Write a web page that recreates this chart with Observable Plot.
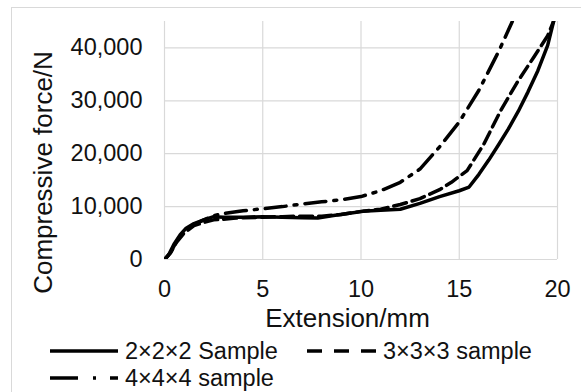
<!DOCTYPE html>
<html>
<head>
<meta charset="utf-8">
<script src="https://cdn.jsdelivr.net/npm/d3@7"></script>
<script src="https://cdn.jsdelivr.net/npm/@observablehq/plot@0.6"></script>
<style>
  html, body { margin: 0; padding: 0; background: #fff; }
  #wrap { position: relative; width: 581px; height: 392px; overflow: hidden; font-family: "Liberation Sans", Arial, sans-serif; }
  #frame { position: absolute; left: 11px; top: 7px; width: 600px; height: 420px; border: 1px solid #d9d9d9; box-sizing: border-box; }
  #plot { position: absolute; left: 0; top: 0; }
  #legend { position: absolute; left: 0; top: 335px; }
</style>
</head>
<body>
<div id="wrap"><div id="frame"></div><div id="plot"></div><div id="legend"></div></div>
<script>
// ---- data ----
const xTicks = [0, 5, 10, 15, 20];
const yTicks = [0, 10000, 20000, 30000, 40000];
const xTitle = "Extension/mm";
const yTitle = "Compressive force/N";
const seriesNames = ["2×2×2 Sample", "3×3×3 sample", "4×4×4 sample"];

const ext2 =   [0, 0.2, 0.5, 0.8, 1.1, 1.5, 2.0, 2.5, 3.0, 4.0, 5.0, 6.0, 7.0, 7.8, 8.6, 9.5, 10.1, 11.0, 12.0, 13.0, 14.0, 15.0, 15.5, 16.0, 16.5, 17.0, 17.5, 18.0, 18.5, 19.0, 19.5, 19.8];
const force2 = [0, 800, 3000, 4700, 5900, 6800, 7500, 8100, 8000, 8000, 8100, 8000, 7900, 7850, 8300, 8800, 9100, 9300, 9500, 10600, 11900, 13000, 13700, 16100, 18800, 21700, 24700, 28000, 31700, 35700, 40500, 45000];

const ext3 =   [0, 0.3, 0.6, 1.0, 1.5, 2.0, 2.5, 3.0, 3.5, 4.0, 5.0, 6.0, 7.0, 8.0, 9.0, 10.0, 11.0, 12.0, 13.0, 14.0, 14.6, 15.4, 16.25, 17.1, 17.95, 18.8, 19.5, 19.85];
const force3 = [0, 1200, 3200, 5000, 6400, 7000, 7500, 7600, 7800, 7900, 8000, 8100, 8200, 8200, 8500, 9100, 9500, 10400, 11500, 13200, 14600, 16800, 21800, 28100, 33500, 38300, 42300, 45500];

const ext4 =   [0, 0.3, 0.6, 1.0, 1.5, 2.0, 2.5, 3.0, 4.0, 5.0, 6.0, 7.0, 8.0, 9.0, 10.0, 11.0, 12.0, 13.0, 14.0, 15.0, 16.0, 17.0, 17.7];
const force4 = [0, 1300, 3300, 5200, 6600, 7500, 8300, 8700, 9200, 9600, 10000, 10500, 10900, 11300, 11900, 13000, 14600, 17100, 21300, 26000, 32000, 39300, 45000];

const toRows = (xs, ys) => xs.map((x, i) => ({x, y: ys[i]}));
const rows2 = toRows(ext2, force2);
const rows3 = toRows(ext3, force3);
const rows4 = toRows(ext4, force4);

const lineStyle = {x: "x", y: "y", stroke: "#000", strokeWidth: 3.5, strokeLinejoin: "round", clip: true};

const chart = Plot.plot({
  width: 581,
  height: 335,
  marginLeft: 164,
  marginRight: 24,
  marginTop: 21,
  marginBottom: 76,
  style: {fontFamily: "'Liberation Sans', Arial, sans-serif", fontSize: "23.5px", color: "#111", background: "transparent", overflow: "visible"},
  x: {domain: [0, 20], ticks: xTicks, tickSize: 0, tickPadding: 21, label: null},
  y: {domain: [0, 45000], ticks: yTicks, tickSize: 0, tickPadding: 22, tickFormat: d3.format(","), label: null},
  marks: [
    Plot.gridX(xTicks, {stroke: "#d9d9d9", strokeOpacity: 1, strokeWidth: 1.2}),
    Plot.gridY(yTicks, {stroke: "#d9d9d9", strokeOpacity: 1, strokeWidth: 1.2}),
    Plot.line(rows2, {...lineStyle}),
    Plot.line(rows3, {...lineStyle, strokeDasharray: "13,6"}),
    Plot.line(rows4, {...lineStyle, strokeDasharray: "21,8,3,8"}),
    Plot.text([yTitle], {text: d => d, frameAnchor: "left", rotate: -90, dx: -121, dy: 32, fontSize: 26, textAnchor: "middle", fill: "#111"}),
    Plot.text([xTitle], {text: d => d, frameAnchor: "bottom", dx: -13.5, dy: 67, lineAnchor: "bottom", fontSize: 26, fill: "#111"})
  ]
});
document.getElementById("plot").appendChild(chart);

// ---- legend ----
const legendItems = [
  {name: seriesNames[0], x: 50, y: 16, dash: null},
  {name: seriesNames[1], x: 307, y: 16, dash: "15,12"},
  {name: seriesNames[2], x: 50, y: 43, dash: "28,15,3,14"}
];
const leg = d3.select("#legend").append("svg").attr("width", 581).attr("height", 57);
const g = leg.selectAll("g").data(legendItems).join("g");
g.append("line")
  .attr("x1", d => d.x).attr("x2", d => d.x + (d.x === 50 ? 68 : 70))
  .attr("y1", d => d.y).attr("y2", d => d.y)
  .attr("stroke", "#000").attr("stroke-width", 3.5)
  .attr("stroke-dasharray", d => d.dash);
g.append("text")
  .attr("x", d => d.x + (d.x === 50 ? 75 : 76))
  .attr("y", d => d.y + 8)
  .attr("font-family", "'Liberation Sans', Arial, sans-serif")
  .attr("font-size", 23.5)
  .attr("fill", "#111")
  .text(d => d.name);
</script>
</body>
</html>
